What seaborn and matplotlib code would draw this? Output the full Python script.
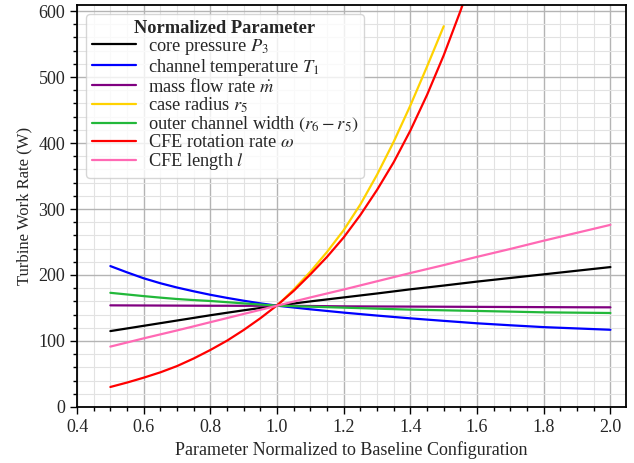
import numpy as np
import pandas as pd
import matplotlib
matplotlib.use('Agg')
import matplotlib.pyplot as plt
import seaborn as sns
from matplotlib.ticker import MultipleLocator

# valores (W)
x_full = [0.5, 0.55, 0.6, 0.65, 0.7, 0.75, 0.8, 0.85, 0.9, 0.95, 1.0,
          1.1, 1.2, 1.3, 1.4, 1.5, 1.6, 1.7, 1.8, 1.9, 2.0]
core_pressure = [115, 119, 123, 127, 131, 135, 139, 142.8, 146.5, 150, 153.5,
                 160, 166, 172, 178.3, 184, 190, 195.5, 201, 206.5, 212]
channel_temp = [213.5, 204, 195, 187.5, 181, 175.3, 170, 165.3, 161, 157, 153.5,
                148, 143, 138.5, 134.3, 130.5, 126.8, 123.8, 121, 119, 117]
mass_flow = [154, 153.9, 153.8, 153.7, 153.6, 153.5, 153.4, 153.4, 153.3, 153.4, 153.5,
             153, 152.5, 152.3, 152.1, 151.9, 151.7, 151.5, 151.3, 151.1, 151]
outer_width = [173, 170.5, 168, 165.7, 163.6, 162, 160.6, 158.8, 157, 155.2, 153.5,
               152, 150.5, 149, 147.5, 146.5, 145.5, 144.5, 143.4, 142.9, 142.4]
cfe_length = [91.5, 97.7, 104, 110, 116, 122.2, 128.5, 134.7, 141, 147.2, 153.5,
              166, 178, 190.5, 203, 215, 227.5, 239.5, 252, 264, 276]

x_radius = [1.0, 1.05, 1.1, 1.15, 1.2, 1.25, 1.3, 1.35, 1.4, 1.45, 1.5]
case_radius = [153.5, 178, 205, 235, 268, 307, 352, 402, 457, 516, 577]

x_omega = [0.5, 0.55, 0.6, 0.65, 0.7, 0.75, 0.8, 0.85, 0.9, 0.95, 1.0,
           1.05, 1.1, 1.15, 1.2, 1.25, 1.3, 1.35, 1.4, 1.45, 1.5, 1.55, 1.6]
cfe_omega = [30.3, 37, 44.4, 52.5, 62, 73.5, 86.4, 100.5, 116.7, 134.5, 154,
             176, 201, 227.5, 257, 291, 329, 371, 419, 473, 533, 600, 671]

series = [
    ('core pressure $P_3$', x_full, core_pressure, 'black'),
    ('channel temperature $T_1$', x_full, channel_temp, '#0000ff'),
    ('mass flow rate $\\dot{m}$', x_full, mass_flow, '#800080'),
    ('case radius $r_5$', x_radius, case_radius, '#ffd200'),
    ('outer channel width $(r_6 - r_5)$', x_full, outer_width, '#22b83a'),
    ('CFE rotation rate $\\omega$', x_omega, cfe_omega, '#ff0000'),
    ('CFE length $l$', x_full, cfe_length, '#ff69b4'),
]

sns.set_style('ticks')
plt.rcParams['font.family'] = ['Liberation Serif', 'DejaVu Serif']
plt.rcParams['mathtext.fontset'] = 'stix'

fig, ax = plt.subplots(figsize=(6.34, 4.63), dpi=100)
fig.subplots_adjust(left=0.1215, right=0.987, top=0.989, bottom=0.121)

for label, xs, ys, color in series:
    sns.lineplot(x=xs, y=ys, color=color, label=label, linewidth=1.6, ax=ax)

ax.set_xlim(0.4, 2.046)
ax.set_ylim(0, 609)
ax.xaxis.set_major_locator(MultipleLocator(0.2))
ax.xaxis.set_minor_locator(MultipleLocator(0.05))
ax.yaxis.set_major_locator(MultipleLocator(100))
ax.yaxis.set_minor_locator(MultipleLocator(20))
ax.grid(which='major', color='#b4b4b4', linewidth=1.0)
ax.grid(which='minor', color='#e2e2e2', linewidth=0.8)
ax.set_axisbelow(True)
ax.tick_params(which='major', direction='out', length=5, width=1, labelsize=13, color='black')
ax.tick_params(which='minor', direction='out', length=3, width=1, color='black')
for s in ax.spines.values():
    s.set_linewidth(1.3)
    s.set_color('black')

ax.set_xlabel('Parameter Normalized to Baseline Configuration', fontsize=13)
ax.set_ylabel('Turbine Work Rate (W)', fontsize=12)

leg = ax.legend(loc='upper left', title='Normalized Parameter', fontsize=13.2,
                title_fontproperties={'weight': 'bold', 'size': 13.2},
                handlelength=2.4, handletextpad=0.65, labelspacing=0.0,
                borderpad=0.3, framealpha=0.8, fancybox=True)

plt.savefig('out.png', dpi=100)
